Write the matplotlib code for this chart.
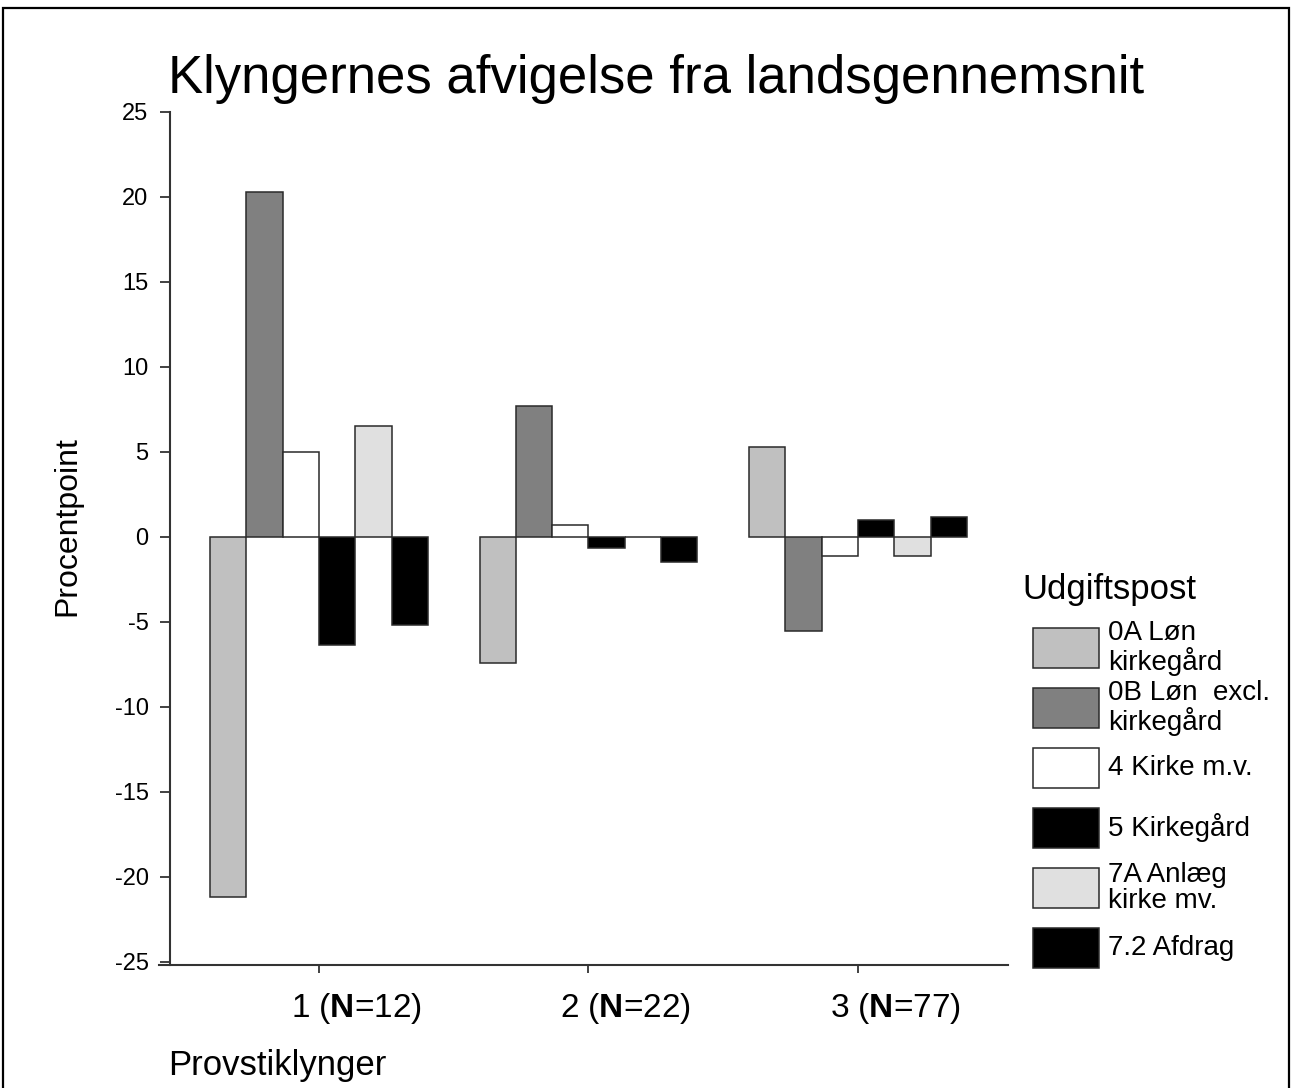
import matplotlib.pyplot as plt
import matplotlib.transforms as mtransforms
from matplotlib.patches import Rectangle
import numpy as np

plt.rcParams['font.family'] = ['Liberation Sans', 'DejaVu Sans']
plt.rcParams['mathtext.fontset'] = 'custom'
plt.rcParams['mathtext.rm'] = 'Liberation Sans'
plt.rcParams['mathtext.bf'] = 'Liberation Sans:bold'

# data
clusters = [r'1 ($\mathbf{N}$=12)', r'2 ($\mathbf{N}$=22)', r'3 ($\mathbf{N}$=77)']
series = ['0A Løn\nkirkegård', '0B Løn  excl.\nkirkegård', '4 Kirke m.v.',
          '5 Kirkegård', '7A Anlæg\nkirke mv.', '7.2 Afdrag']
colors = ['#c0c0c0', '#808080', '#ffffff', '#000000', '#e0e0e0', '#000000']
values = [
    [-21.2, -7.4, 5.3],    # 0A
    [20.3, 7.7, -5.55],    # 0B
    [5.0, 0.7, -1.15],     # 4
    [-6.35, -0.65, 1.0],   # 5
    [6.5, 0.0, -1.15],     # 7A
    [-5.2, -1.5, 1.15],    # 7.2
]
yticks = list(range(-25, 30, 5))

W, H = 1292, 1088
fig = plt.figure(figsize=(W / 100, H / 100), dpi=100)
ax = fig.add_axes([159 / W, 1 - 965 / H, (1008 - 159) / W, (965 - 112) / H])

# spine placement first: moving a spine resets its ticks
for s in ['top', 'right']:
    ax.spines[s].set_visible(False)
ax.spines['left'].set_position(('data', 0.447))
ax.spines['left'].set_bounds(-25.2, 25)
for s in ['left', 'bottom']:
    ax.spines[s].set_linewidth(1.5)
    ax.spines[s].set_color('#333333')

x = np.arange(1, len(clusters) + 1)
bw = 0.1347
for i, (name, col, vals) in enumerate(zip(series, colors, values)):
    ax.bar(x + (i - 2.5) * bw, vals, width=bw, color=col,
           edgecolor='#2a2a2a', linewidth=1.1)

ax.set_xlim(0.406, 3.557)
ax.set_ylim(-25.2, 25)
ax.set_yticks(yticks)
ax.set_yticklabels([str(t) for t in yticks])
ax.set_xticks(x)
ax.set_xticklabels(clusters)
ax.tick_params(axis='y', direction='out', length=7.5, width=1.3,
               color='#333333', pad=8, labelsize=17)
ax.tick_params(axis='x', direction='out', length=6, width=1.3,
               color='#333333', pad=13, labelsize=24)

# tick labels sit one bar to the right of the tick marks
shift = mtransforms.ScaledTranslation(37 / 100, 0, fig.dpi_scale_trans)
for lab in ax.get_xticklabels():
    lab.set_transform(lab.get_transform() + shift)

ax.set_ylabel('Procentpoint', fontsize=23)
ax.yaxis.set_label_coords(-0.09, 0.515)

fig.text(168 / W, 1 - 93 / H, 'Klyngernes afvigelse fra landsgennemsnit',
         fontsize=38, ha='left', va='baseline')
fig.text(168 / W, 1 - 1082 / H, 'Provstiklynger', fontsize=25,
         ha='left', va='bottom')

# legend drawn by hand to keep the even row spacing of the original
fig.text(1022 / W, 1 - 590 / H, 'Udgiftspost', fontsize=25,
         ha='left', va='center')
for i, (name, col) in enumerate(zip(series, colors)):
    top = 628 + 60 * i
    fig.patches.append(Rectangle((1033 / W, 1 - (top + 40) / H), 66 / W, 40 / H,
                                 transform=fig.transFigure, facecolor=col,
                                 edgecolor='#2a2a2a', linewidth=1.1))
    fig.text(1108 / W, 1 - (top + 20) / H, name, fontsize=20,
             ha='left', va='center', linespacing=1.0)

# frame around the whole picture
fig.patches.append(Rectangle((3 / W, -0.02), 1286 / W, 1.02 - 8 / H,
                             transform=fig.transFigure, fill=False,
                             edgecolor='black', linewidth=1.6))

fig.savefig('out.png', dpi=100)
